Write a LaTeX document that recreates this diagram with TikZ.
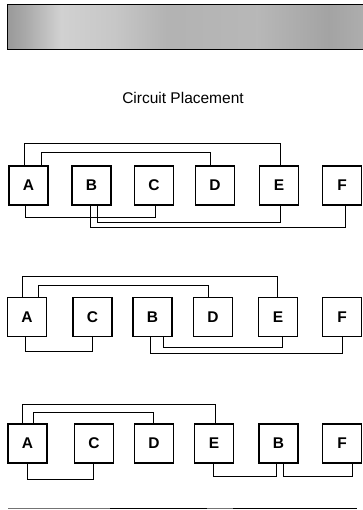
\documentclass[tikz,border=0pt]{standalone}
\usepackage{fontspec}
\setmainfont{Liberation Sans}
\pgfdeclarehorizontalshading{bannershade}{100bp}{
  color(0bp)=(black!40); color(25bp)=(black!40); color(27.5bp)=(black!34);
  color(32.5bp)=(black!18); color(40bp)=(black!22); color(47.5bp)=(black!30);
  color(60bp)=(black!28); color(70bp)=(black!36); color(75bp)=(black!32);
  color(100bp)=(black!32)}
\begin{document}
\begin{tikzpicture}[x=1pt,y=-1pt,
  chip/.style={draw=black,line width=1.1pt,minimum width=39pt,minimum height=39pt,inner sep=0pt,font=\fontsize{15.5}{18}\selectfont\bfseries},
  wire/.style={draw=black,line width=0.8pt},
  titletext/.style={font=\fontsize{15.5}{18}\selectfont}]
\useasboundingbox (0,0) rectangle (362,510);
% banner
\shade[shading=bannershade] (7,5) rectangle (364,50);
\draw[line width=1pt] (364,5) -- (7,5) -- (7,50) -- (364,50);
\node[titletext] (title) at (183,98) {Circuit Placement};
% row 1
\node[chip] (A1) at (28.5,185.5) {A};
\node[chip] (B1) at (91.5,185.5) {B};
\node[chip] (C1) at (154,185.5) {C};
\node[chip] (D1) at (215,185.5) {D};
\node[chip] (E1) at (279,185.5) {E};
\node[chip] (F1) at (342,185.5) {F};
\draw[wire] ([xshift=-4.5pt]A1.north) |- ([xshift=1pt,yshift=22pt]E1.north) -- ([xshift=1pt]E1.north);
\draw[wire] ([xshift=12.5pt]A1.north) |- ([xshift=-5pt,yshift=13pt]D1.north) -- ([xshift=-5pt]D1.north);
\draw[wire] ([xshift=-3.5pt]A1.south) |- ([xshift=1pt,yshift=-12pt]C1.south) -- ([xshift=1pt]C1.south);
\draw[wire] ([xshift=5.5pt]B1.south) |- ([xshift=1pt,yshift=-17pt]E1.south) -- ([xshift=1pt]E1.south);
\draw[wire] ([xshift=-1pt]B1.south) |- ([xshift=3pt,yshift=-22pt]F1.south) -- ([xshift=3pt]F1.south);
% row 2
\node[chip] (A2) at (27,317) {A};
\node[chip] (C2) at (92.5,317) {C};
\node[chip] (B2) at (152.5,317) {B};
\node[chip] (D2) at (213,317) {D};
\node[chip] (E2) at (278,317) {E};
\node[chip] (F2) at (342,317) {F};
\draw[wire] ([xshift=-5pt]A2.north) |- ([xshift=-1pt,yshift=21pt]E2.north) -- ([xshift=-1pt]E2.north);
\draw[wire] ([xshift=11pt]A2.north) |- ([xshift=-5pt,yshift=12pt]D2.north) -- ([xshift=-5pt]D2.north);
\draw[wire] ([xshift=-1.5pt]A2.south) |- ([xshift=-0.5pt,yshift=-14pt]C2.south) -- ([xshift=-0.5pt]C2.south);
\draw[wire] ([xshift=10.5pt]B2.south) |- ([xshift=4pt,yshift=-10pt]E2.south) -- ([xshift=4pt]E2.south);
\draw[wire] ([xshift=-2.5pt]B2.south) |- ([yshift=-16pt]F2.south) -- (F2.south);
% row 3
\node[chip] (A3) at (27.5,443.5) {A};
\node[chip] (C3) at (94,443.5) {C};
\node[chip] (D3) at (154,443.5) {D};
\node[chip] (E3) at (214,443.5) {E};
\node[chip] (B3) at (278.5,443.5) {B};
\node[chip] (F3) at (342,443.5) {F};
\draw[wire] ([xshift=-5.5pt]A3.north) |- ([xshift=1pt,yshift=19pt]E3.north) -- ([xshift=1pt]E3.north);
\draw[wire] ([xshift=5.5pt]A3.north) |- ([xshift=-1pt,yshift=11pt]D3.north) -- ([xshift=-1pt]D3.north);
\draw[wire] ([xshift=-0.5pt]A3.south) |- ([xshift=-1pt,yshift=-16pt]C3.south) -- ([xshift=-1pt]C3.south);
\draw[wire] ([xshift=-1pt]E3.south) |- ([xshift=-2.5pt,yshift=-13pt]B3.south) -- ([xshift=-2.5pt]B3.south);
\draw[wire] ([xshift=4.5pt]B3.south) |- ([xshift=10pt,yshift=-13pt]F3.south) -- ([xshift=10pt]F3.south);
% bottom rule
\draw[line width=1.6pt,black!55] (8,508.5) -- (110,508.5);
\draw[line width=1.6pt,black] (110,508.5) -- (207,508.5);
\draw[line width=1.6pt,black!55] (207,508.5) -- (233,508.5);
\draw[line width=1.6pt,black] (233,508.5) -- (357,508.5);
\end{tikzpicture}
\end{document}
